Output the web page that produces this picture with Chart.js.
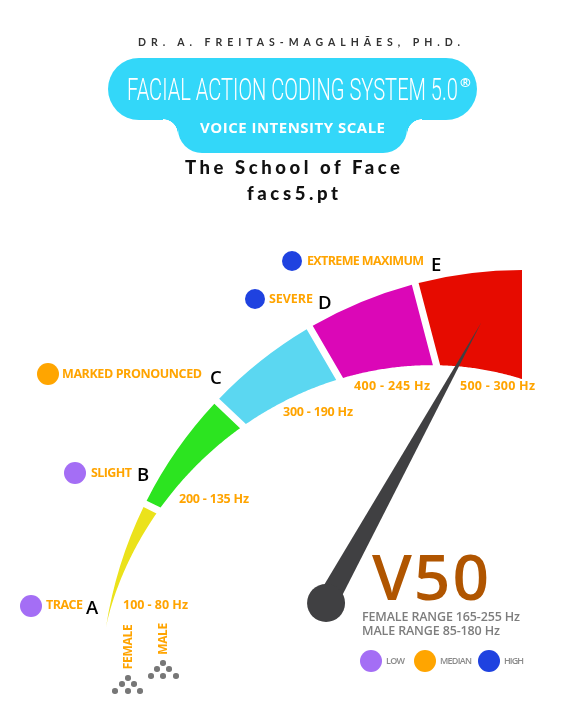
<!DOCTYPE html>
<html>
<head>
<meta charset="utf-8">
<script src="https://cdn.jsdelivr.net/npm/chart.js@4.4.1/dist/chart.umd.min.js"></script>
<style>
  html, body { margin: 0; padding: 0; background: #fff; }
  #page { position: relative; width: 580px; height: 725px; overflow: hidden; font-family: 'Open Sans', sans-serif; }
  #gauge { position: absolute; left: 0; top: 0; }
  .t { position: absolute; white-space: nowrap; line-height: 1; }
  .pill { position: absolute; background: #33D7F9; }
  .dot { position: absolute; border-radius: 50%; }
</style>
</head>
<body>
<div id="page">
  <canvas id="gauge" width="580" height="725"></canvas>
  <div class="pill" style="left:108px; top:58px; width:369px; height:62px; border-radius:31px;"></div>
  <div class="pill" style="left:178px; top:92px; width:229px; height:61px; border-radius:24px;"></div>
  <div class="pill" style="left:163px; top:119px; width:15px; height:15px; background:radial-gradient(circle at 0 100%, #fff 14.5px, #33D7F9 15px);"></div>
  <div class="pill" style="left:407px; top:119px; width:15px; height:15px; background:radial-gradient(circle at 100% 100%, #fff 14.5px, #33D7F9 15px);"></div>
</div>
<script>
// levels of the scale, bottom (A) to top (E)
const levels = ['A', 'B', 'C', 'D', 'E'];
const levelNames = ['TRACE', 'SLIGHT', 'MARKED PRONOUNCED', 'SEVERE', 'EXTREME MAXIMUM'];
const levelGroups = ['LOW', 'LOW', 'MEDIAN', 'HIGH', 'HIGH'];
const hzRanges = ['100 - 80 Hz', '200 - 135 Hz', '300 - 190 Hz', '400 - 245 Hz', '500 - 300 Hz'];
const arcSpans = [17.7, 17.1, 16.2, 15.6, 14.7];   // degrees of the arc per level
const needleAt = 75;                               // needle position, same units as arcSpans
const groups = ['LOW', 'MEDIAN', 'HIGH'];
const voiceCode = 'V50';
const voiceRanges = ['FEMALE RANGE 165-255 Hz', 'MALE RANGE 85-180 Hz'];

const levelColors = ['#EBE21B', '#2CE420', '#5BD7F1', '#DB07B7', '#E60B00'];
const groupColors = { LOW: '#A46EF5', MEDIAN: '#FFA500', HIGH: '#1F42E0' };

// where the labels sit (left x, baseline y, width)
const labelPos = [
  { dot: [31, 606], name: [46, 610, 37], letter: [86, 614], hz: [123, 610, 65] },
  { dot: [75, 473], name: [91, 478, 41], letter: [137, 481], hz: [179, 504, 70] },
  { dot: [48, 374], name: [62, 379, 140], letter: [210, 384], hz: [283, 417, 70] },
  { dot: [255, 299], name: [269, 304, 44], letter: [318, 309], hz: [354, 391, 76] },
  { dot: [292, 261], name: [307, 266, 117], letter: [431, 271], hz: [460, 391, 75] }
];

const page = document.getElementById('page');

function text(str, x, base, size, css, width) {
  const el = document.createElement('div');
  el.className = 't';
  el.textContent = str;
  el.style.cssText += css;
  el.style.fontSize = size + 'px';
  el.style.left = x + 'px';
  el.style.top = (base - size * 0.888) + 'px';
  page.appendChild(el);
  if (width) {
    const nat = el.getBoundingClientRect().width;
    el.style.letterSpacing = ((width - nat) / Math.max(str.length - 1, 1)) + 'px';
  }
  return el;
}

function dot(cx, cy, r, color) {
  const el = document.createElement('div');
  el.className = 'dot';
  el.style.cssText = `left:${cx - r}px; top:${cy - r}px; width:${2 * r}px; height:${2 * r}px; background:${color};`;
  page.appendChild(el);
}

const label = 'color:#FFA400; font-weight:700;';

// header
text('DR. A. FREITAS-MAGALHÃES, PH.D.', 138, 46.5, 10.5, "color:#333; font-family:'Lato'; font-weight:700;", 322);
const title = text('FACIAL ACTION CODING SYSTEM 5.0', 127, 100, 31, "color:#fff; font-family:'Roboto'; font-weight:300;");
title.style.top = (100 - 31 * 0.842) + 'px';
title.style.transformOrigin = 'left top';
title.style.transform = `scaleX(${331 / title.getBoundingClientRect().width})`;
text('®', 460, 88, 13, 'color:#fff; font-weight:700;');
text('VOICE INTENSITY SCALE', 200, 133, 15, 'color:#fff; font-weight:700;', 185);
text('The School of Face', 185, 174, 18.5, "color:#111; font-family:'Lato'; font-weight:900;", 215);
text('facs5.pt', 247, 200, 18.5, "color:#111; font-family:'Lato'; font-weight:900;", 91);

// gauge labels
levels.forEach((lv, i) => {
  const p = labelPos[i];
  dot(p.dot[0], p.dot[1], i >= 3 ? 10 : 11, groupColors[levelGroups[i]]);
  text(levelNames[i], p.name[0], p.name[1], 12.5, label, p.name[2]);
  text(lv, p.letter[0], p.letter[1], 18.5, 'color:#000; font-weight:600;');
  text(hzRanges[i], p.hz[0], p.hz[1], 12.5, label, p.hz[2]);
});

// female / male markers
[['FEMALE', 128, 647, 45], ['MALE', 163, 639, 32]].forEach(([s, cx, cy, len]) => {
  const el = text(s, 0, 0, 12, label, len);
  const w = el.getBoundingClientRect().width, h = el.getBoundingClientRect().height;
  el.style.left = (cx - w / 2) + 'px';
  el.style.top = (cy - h / 2) + 'px';
  el.style.transform = 'rotate(-90deg)';
});
[[128, 678], [122, 684], [134, 684], [115, 691], [128, 691], [140, 691],
 [163, 663], [157, 669], [169, 669], [151, 676], [163, 676], [176, 676]]
  .forEach(([x, y]) => dot(x, y, 2.8, '#777'));

// result block
text(voiceCode, 372, 601, 64, 'color:#B05500; font-weight:600;', 117);
text(voiceRanges[0], 362, 622, 12.5, 'color:#7d7d7d; font-weight:600;', 158);
text(voiceRanges[1], 362, 636.5, 12.5, 'color:#7d7d7d; font-weight:600;', 138);
const legendX = [371, 425, 489], legendW = [19, 32, 20];
groups.forEach((g, i) => {
  dot(legendX[i], 661, 11, groupColors[g]);
  text(g, legendX[i] + 15, 664, 9, 'color:#8a8a8a; font-weight:600;', legendW[i]);
});

// tapered arc segments instead of the plain doughnut rings
const taperGauge = {
  id: 'taperGauge',
  beforeDatasetDraw(chart, args) {
    const arcs = args.meta.data;
    const ctx = chart.ctx;
    const a0 = arcs[0].startAngle, a1 = arcs[arcs.length - 1].endAngle;
    const R = arcs[0].outerRadius, cx = arcs[0].x, cy = arcs[0].y;
    const thick = a => R * 0.259 * Math.pow(Math.max(a - a0, 0) / (a1 - a0), 1.3);
    const gap = 3.5;
    arcs.forEach((arc, i) => {
      const first = i === 0, last = i === arcs.length - 1;
      const sOut = arc.startAngle + (first ? 0 : gap / R);
      const eOut = arc.endAngle - (last ? 0 : gap / R);
      const sIn = arc.startAngle + (first ? 0 : gap / (R - thick(arc.startAngle)));
      const eIn = arc.endAngle - (last ? 0 : gap / (R - thick(arc.endAngle)));
      ctx.save();
      ctx.fillStyle = arc.options.backgroundColor;
      ctx.beginPath();
      ctx.arc(cx, cy, R, sOut, eOut);
      for (let k = 60; k >= 0; k--) {
        const a = sIn + (eIn - sIn) * k / 60;
        const r = R - thick(a);
        ctx.lineTo(cx + r * Math.cos(a), cy + r * Math.sin(a));
      }
      ctx.closePath();
      ctx.fill();
      ctx.restore();
    });
    return false;
  },
  afterDatasetsDraw(chart) {
    const arcs = chart.getDatasetMeta(0).data;
    const ctx = chart.ctx;
    const R = arcs[0].outerRadius, cx = arcs[0].x, cy = arcs[0].y;
    const total = arcSpans.reduce((a, b) => a + b, 0);
    const a0 = arcs[0].startAngle, a1 = arcs[arcs.length - 1].endAngle;
    const ang = a0 + (a1 - a0) * needleAt / total;
    const tx = cx + 0.881 * R * Math.cos(ang), ty = cy + 0.881 * R * Math.sin(ang);
    const px = cx - 0.4656 * R, py = cy - 0.209 * R;
    const dx = tx - px, dy = ty - py, len = Math.hypot(dx, dy);
    const nx = -dy / len * 11, ny = dx / len * 11;
    ctx.save();
    ctx.fillStyle = '#404042';
    ctx.beginPath();
    ctx.moveTo(tx, ty);
    ctx.lineTo(px + nx, py + ny);
    ctx.lineTo(px - nx, py - ny);
    ctx.closePath();
    ctx.fill();
    ctx.beginPath();
    ctx.arc(px, py, 19, 0, Math.PI * 2);
    ctx.fill();
    ctx.restore();
  }
};

const totalSpan = arcSpans.reduce((a, b) => a + b, 0);
new Chart(document.getElementById('gauge'), {
  type: 'doughnut',
  data: {
    labels: levels,
    datasets: [{ data: arcSpans, backgroundColor: levelColors, borderWidth: 0 }]
  },
  options: {
    responsive: false,
    animation: false,
    events: [],
    rotation: 360 - totalSpan,
    circumference: totalSpan,
    cutout: 0,
    layout: { padding: { left: 106, top: 270, right: 58, bottom: 34 } },
    plugins: { legend: { display: false }, tooltip: { enabled: false } }
  },
  plugins: [taperGauge]
});
</script>
</body>
</html>
